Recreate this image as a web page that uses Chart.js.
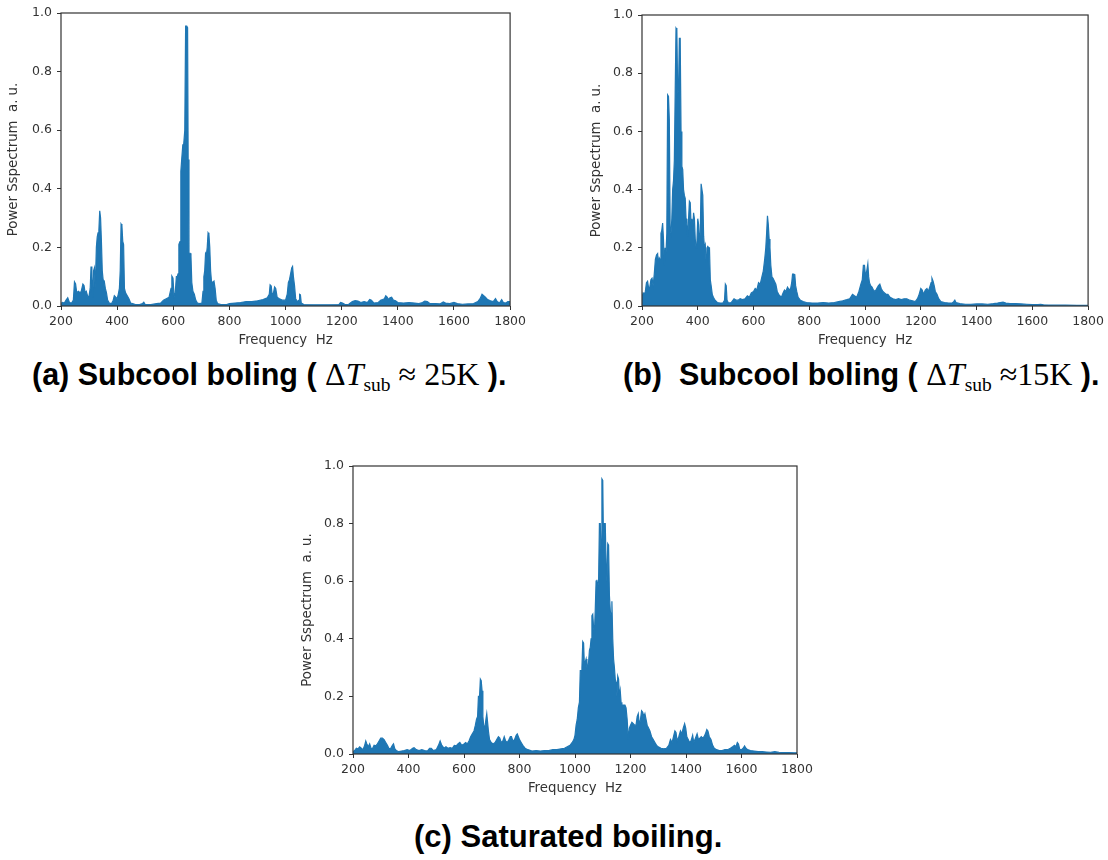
<!DOCTYPE html>
<html><head><meta charset="utf-8">
<script src="https://cdn.jsdelivr.net/npm/chart.js@4.4.0/dist/chart.umd.min.js"></script>
<style>
html,body{margin:0;padding:0;background:#fff;}
body{width:1108px;height:860px;position:relative;overflow:hidden;}
canvas{position:absolute;}
.cap{position:absolute;font-family:"Liberation Sans",Arial,sans-serif;font-weight:bold;font-size:30.5px;line-height:30px;white-space:pre;color:#000;}
.m{font-family:"Liberation Serif","Times New Roman",serif;font-weight:normal;font-size:32px;}
.m i{font-style:italic;}
.m sub{font-size:19.5px;vertical-align:baseline;position:relative;top:6px;}
</style></head>
<body>
<canvas id="ca" width="530" height="356" style="left:0;top:0"></canvas>
<canvas id="cb" width="528" height="356" style="left:580px;top:0"></canvas>
<canvas id="cc" width="530" height="350" style="left:290px;top:450px"></canvas>
<div class="cap" style="left:32px;top:359px">(a) Subcool boling ( <span class="m">Δ<i>T</i><sub>sub</sub> ≈ 25K</span> ).</div>
<div class="cap" style="left:623px;top:359px">(b)  Subcool boling ( <span class="m">Δ<i>T</i><sub>sub</sub> ≈15K</span> ).</div>
<div class="cap" style="left:414px;top:822px;font-size:31px">(c) Saturated boiling.</div>
<script>
// ---- tick labels / titles ----
const xTicks = [200, 400, 600, 800, 1000, 1200, 1400, 1600, 1800];
const yTicks = [0, 0.2, 0.4, 0.6, 0.8, 1.0];
const xTitle = 'Frequency  Hz';
const yTitle = 'Power Sspectrum  a. u.';

// ---- (a) Subcool boiling, dT_sub ~ 25K ----
const freqA = [200,205,212,218,224,230,238,244,248,252,256,262,268,272,278,282,286,290,296,300,304,307,310,313,316,319,322,326,329,332,335,338,341,344,347,350,354,358,362,366,372,380,386,390,395,400,404,408,411,414,417,420,423,426,430,436,442,448,455,465,480,490,495,500,520,540,555,565,575,585,592,595,599,603,607,611,614,617,620,624,627,630,634,637,641,644,648,651,653,656,660,663,666,670,675,680,686,695,702,706,709,712,715,718,721,724,727,730,733,736,740,745,749,753,758,770,790,800,820,840,860,880,900,920,935,942,945,949,952,957,961,965,970,978,988,1000,1006,1010,1014,1018,1022,1025,1028,1032,1036,1042,1048,1050,1053,1056,1065,1100,1150,1190,1196,1203,1212,1225,1238,1248,1258,1268,1280,1292,1300,1306,1315,1330,1340,1346,1352,1357,1362,1367,1372,1378,1384,1392,1400,1420,1440,1460,1475,1488,1496,1505,1515,1535,1550,1562,1570,1585,1600,1612,1630,1650,1670,1685,1693,1700,1706,1712,1720,1730,1740,1748,1754,1762,1770,1776,1785,1792,1800];
const valA = [0.008,0.012,0.01,0.02,0.028,0.012,0.01,0.02,0.082,0.075,0.045,0.05,0.045,0.05,0.075,0.07,0.045,0.05,0.03,0.035,0.06,0.135,0.1,0.03,0.12,0.13,0.06,0.2,0.235,0.25,0.26,0.325,0.3,0.22,0.12,0.09,0.085,0.06,0.045,0.02,0.01,0.008,0.02,0.035,0.03,0.025,0.04,0.06,0.12,0.28,0.275,0.22,0.21,0.06,0.045,0.035,0.025,0.01,0.008,0.005,0.005,0.008,0.013,0.005,0.005,0.008,0.01,0.02,0.025,0.03,0.06,0.102,0.095,0.03,0.045,0.1,0.1,0.11,0.21,0.22,0.46,0.5,0.55,0.55,0.6,0.955,0.955,0.95,0.5,0.18,0.18,0.17,0.08,0.05,0.04,0.02,0.01,0.008,0.01,0.05,0.1,0.12,0.18,0.175,0.2,0.25,0.245,0.2,0.12,0.085,0.08,0.085,0.06,0.02,0.008,0.005,0.005,0.008,0.01,0.012,0.015,0.015,0.018,0.022,0.028,0.04,0.072,0.068,0.04,0.045,0.065,0.06,0.03,0.025,0.02,0.02,0.04,0.08,0.09,0.11,0.13,0.135,0.1,0.07,0.025,0.015,0.02,0.04,0.038,0.01,0.005,0.004,0.004,0.005,0.012,0.01,0.005,0.006,0.015,0.018,0.017,0.012,0.015,0.012,0.022,0.02,0.01,0.012,0.02,0.022,0.025,0.035,0.03,0.022,0.028,0.03,0.02,0.018,0.012,0.01,0.012,0.01,0.008,0.012,0.017,0.015,0.008,0.008,0.007,0.014,0.01,0.008,0.012,0.008,0.006,0.007,0.008,0.015,0.025,0.04,0.035,0.03,0.022,0.018,0.015,0.025,0.015,0.01,0.022,0.012,0.01,0.015,0.015];

// ---- (b) Subcool boiling, dT_sub ~ 15K ----
const freqB = [200,204,208,212,216,220,224,228,232,236,240,244,248,252,256,259,262,265,268,271,274,277,280,283,286,289,292,295,298,301,304,307,310,313,316,319,322,325,328,331,334,337,340,343,346,349,352,355,358,361,364,367,370,373,376,379,382,385,388,391,394,397,400,403,406,409,412,415,418,421,424,427,430,433,436,439,442,445,448,452,456,462,470,480,490,496,499,502,505,510,520,530,538,545,552,560,570,578,585,592,600,606,612,618,624,630,635,640,644,647,650,653,656,659,662,666,670,675,680,685,690,695,700,706,711,716,722,728,733,737,740,744,748,751,755,760,768,778,790,810,830,850,870,890,905,920,935,945,955,962,970,978,985,990,994,998,1002,1006,1010,1013,1016,1020,1025,1030,1036,1042,1048,1053,1058,1064,1070,1076,1082,1090,1100,1110,1120,1130,1140,1150,1160,1170,1180,1188,1194,1200,1205,1210,1216,1222,1227,1232,1237,1240,1244,1248,1252,1258,1264,1272,1285,1300,1312,1318,1322,1326,1340,1360,1380,1400,1420,1440,1460,1475,1485,1495,1505,1520,1540,1560,1580,1600,1620,1630,1640,1680,1720,1760,1800];
const valB = [0.03,0.045,0.04,0.05,0.08,0.085,0.06,0.065,0.09,0.095,0.07,0.11,0.16,0.175,0.18,0.14,0.165,0.16,0.25,0.26,0.285,0.23,0.14,0.2,0.18,0.25,0.725,0.72,0.64,0.26,0.25,0.3,0.4,0.43,0.5,0.73,0.955,0.95,0.73,0.74,0.92,0.92,0.6,0.48,0.47,0.4,0.38,0.37,0.3,0.28,0.24,0.3,0.36,0.355,0.28,0.3,0.26,0.32,0.3,0.23,0.2,0.22,0.3,0.28,0.22,0.25,0.42,0.42,0.38,0.24,0.2,0.21,0.15,0.2,0.205,0.2,0.2,0.09,0.07,0.04,0.03,0.02,0.012,0.01,0.01,0.02,0.075,0.07,0.02,0.01,0.012,0.025,0.02,0.02,0.025,0.022,0.025,0.035,0.03,0.045,0.05,0.06,0.055,0.08,0.075,0.1,0.12,0.16,0.2,0.25,0.31,0.28,0.23,0.2,0.14,0.1,0.095,0.085,0.075,0.05,0.04,0.035,0.03,0.045,0.055,0.05,0.065,0.055,0.06,0.08,0.11,0.11,0.108,0.07,0.05,0.03,0.02,0.015,0.012,0.01,0.01,0.012,0.01,0.012,0.015,0.018,0.022,0.025,0.04,0.035,0.03,0.05,0.075,0.09,0.14,0.14,0.1,0.12,0.145,0.1,0.08,0.07,0.065,0.055,0.05,0.06,0.07,0.075,0.06,0.05,0.045,0.04,0.04,0.03,0.025,0.022,0.025,0.022,0.025,0.025,0.02,0.018,0.015,0.025,0.04,0.06,0.055,0.04,0.055,0.06,0.05,0.065,0.08,0.095,0.085,0.07,0.05,0.04,0.025,0.015,0.012,0.01,0.01,0.015,0.02,0.012,0.008,0.006,0.006,0.007,0.007,0.006,0.008,0.01,0.012,0.013,0.01,0.008,0.008,0.007,0.006,0.005,0.005,0.006,0.004,0.003,0.003,0.002,0.002];

// ---- (c) Saturated boiling ----
const freqC = [200,206,212,218,224,230,236,242,246,250,255,260,265,270,276,282,288,294,300,306,312,318,324,330,336,342,346,350,356,365,375,385,395,405,415,420,428,438,448,458,468,476,482,490,500,508,514,520,528,535,542,550,558,565,572,578,585,592,600,606,612,618,624,630,636,641,645,649,652,656,659,662,665,668,671,675,679,682,685,688,692,698,705,712,718,724,729,734,740,745,750,756,762,767,771,776,782,788,792,796,800,806,812,820,830,845,860,875,890,905,920,935,950,962,972,982,990,996,1000,1004,1008,1012,1016,1019,1022,1025,1028,1031,1034,1037,1040,1043,1046,1049,1052,1055,1058,1061,1064,1067,1070,1073,1076,1079,1082,1085,1088,1091,1094,1097,1100,1103,1106,1109,1112,1115,1118,1121,1124,1127,1130,1133,1136,1139,1142,1145,1148,1151,1154,1157,1160,1163,1166,1169,1172,1176,1180,1184,1188,1192,1196,1200,1205,1210,1215,1220,1224,1228,1232,1236,1240,1244,1248,1252,1256,1260,1265,1270,1276,1282,1288,1294,1300,1310,1320,1330,1338,1344,1350,1356,1360,1364,1368,1374,1380,1385,1390,1395,1399,1403,1408,1413,1418,1424,1428,1434,1440,1445,1450,1455,1460,1465,1470,1475,1479,1484,1490,1496,1502,1510,1520,1530,1540,1550,1560,1568,1575,1580,1585,1589,1594,1600,1606,1611,1616,1622,1632,1645,1660,1675,1690,1705,1720,1735,1750,1770,1790,1800];
const valC = [0.008,0.012,0.02,0.018,0.025,0.02,0.015,0.03,0.045,0.035,0.025,0.035,0.02,0.018,0.03,0.028,0.035,0.045,0.055,0.055,0.05,0.04,0.03,0.018,0.02,0.03,0.035,0.02,0.012,0.008,0.01,0.012,0.015,0.012,0.02,0.022,0.015,0.012,0.015,0.012,0.01,0.02,0.02,0.012,0.015,0.03,0.045,0.03,0.02,0.025,0.02,0.022,0.02,0.03,0.028,0.035,0.04,0.03,0.035,0.04,0.035,0.045,0.06,0.07,0.08,0.1,0.12,0.13,0.2,0.2,0.26,0.255,0.22,0.13,0.1,0.09,0.12,0.14,0.11,0.08,0.05,0.04,0.035,0.04,0.05,0.06,0.055,0.04,0.045,0.06,0.045,0.04,0.05,0.06,0.06,0.045,0.05,0.065,0.07,0.06,0.05,0.04,0.03,0.02,0.015,0.01,0.012,0.01,0.012,0.012,0.015,0.015,0.018,0.02,0.025,0.03,0.04,0.05,0.065,0.1,0.12,0.16,0.18,0.29,0.29,0.3,0.39,0.385,0.3,0.32,0.33,0.3,0.3,0.32,0.36,0.37,0.4,0.48,0.485,0.44,0.42,0.5,0.6,0.605,0.58,0.6,0.8,0.8,0.7,0.955,0.95,0.7,0.8,0.8,0.66,0.6,0.73,0.725,0.55,0.5,0.48,0.53,0.4,0.33,0.3,0.26,0.25,0.2,0.27,0.26,0.2,0.22,0.18,0.17,0.17,0.17,0.17,0.16,0.12,0.05,0.09,0.1,0.11,0.105,0.1,0.1,0.13,0.14,0.1,0.12,0.15,0.145,0.13,0.14,0.12,0.1,0.09,0.08,0.06,0.05,0.04,0.03,0.025,0.02,0.018,0.02,0.03,0.05,0.04,0.065,0.08,0.075,0.045,0.06,0.08,0.07,0.09,0.105,0.09,0.06,0.05,0.04,0.045,0.065,0.04,0.055,0.07,0.05,0.055,0.06,0.055,0.06,0.07,0.085,0.08,0.06,0.05,0.03,0.02,0.015,0.012,0.012,0.015,0.015,0.02,0.025,0.03,0.025,0.04,0.035,0.015,0.015,0.02,0.028,0.02,0.015,0.012,0.01,0.008,0.008,0.007,0.006,0.008,0.006,0.005,0.005,0.004,0.004];

const BLUE = '#1f77b4';
const AX = '#333333';
const TICK_FONT = {family: 'DejaVu Sans', size: 12.5};
const TITLE_FONT = {family: 'DejaVu Sans', size: 13.3};

const framePlugin = {
  id: 'frame',
  afterDatasetsDraw(chart) {
    const {ctx, chartArea: a} = chart;
    ctx.save();
    ctx.strokeStyle = AX;
    ctx.lineWidth = 1.2;
    ctx.strokeRect(a.left, a.top, a.right - a.left, a.bottom - a.top);
    ctx.restore();
  }
};

function makeChart(id, freqs, vals, g) {
  const pts = freqs.map((f, i) => ({x: f, y: vals[i]}));
  new Chart(document.getElementById(id), {
    type: 'line',
    data: {datasets: [{data: pts, fill: 'origin', backgroundColor: BLUE, borderColor: BLUE,
      borderWidth: 1.2, pointRadius: 0, tension: 0}]},
    options: {
      responsive: false, animation: false, devicePixelRatio: 1,
      layout: {padding: {left: 0, top: g.top, right: g.right, bottom: 0}},
      plugins: {legend: {display: false}, tooltip: {enabled: false}},
      scales: {
        x: {
          type: 'linear', min: xTicks[0], max: xTicks[xTicks.length - 1],
          afterBuildTicks: s => { s.ticks = xTicks.map(v => ({value: v})); },
          afterFit: s => { s.height = g.xh; },
          border: {display: false},
          grid: {display: true, drawOnChartArea: false, drawTicks: true, tickLength: 4, color: AX},
          ticks: {font: TICK_FONT, color: AX, padding: 4, maxRotation: 0, autoSkip: false,
            callback: v => String(v)},
          title: {display: true, text: xTitle, font: TITLE_FONT, color: AX, padding: {top: 0, bottom: g.xtp}}
        },
        y: {
          min: yTicks[0], max: yTicks[yTicks.length - 1],
          afterBuildTicks: s => { s.ticks = yTicks.map(v => ({value: v})); },
          afterFit: s => { s.width = g.yw; },
          border: {display: false},
          grid: {display: true, drawOnChartArea: false, drawTicks: true, tickLength: 4, color: AX},
          ticks: {font: TICK_FONT, color: AX, padding: 5, callback: v => Number(v).toFixed(1)},
          title: {display: true, text: yTitle, font: TITLE_FONT, color: AX, padding: {top: g.ytp, bottom: 0}}
        }
      }
    },
    plugins: [framePlugin]
  });
}

makeChart('ca', freqA, valA, {top: 13, right: 18, yw: 61, xh: 50, ytp: 6, xtp: 7});
makeChart('cb', freqB, valB, {top: 15, right: 17, yw: 62, xh: 50, ytp: 9, xtp: 7});
makeChart('cc', freqC, valC, {top: 16, right: 23, yw: 63, xh: 46, ytp: 10, xtp: 3});
</script>
</body></html>
